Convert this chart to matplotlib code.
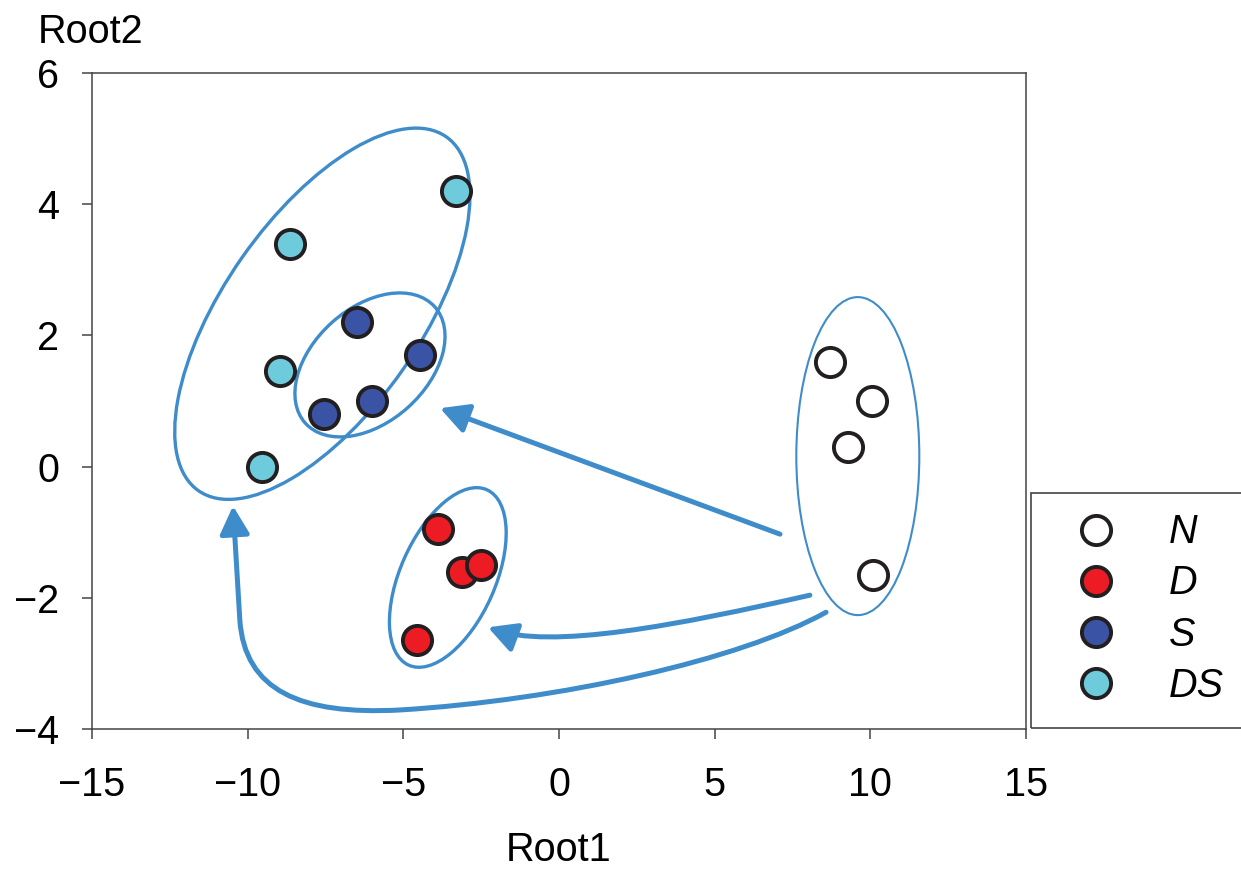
import matplotlib.pyplot as plt
import numpy as np
from matplotlib.patches import Ellipse, FancyArrowPatch, Rectangle
from matplotlib.path import Path
from matplotlib.transforms import ScaledTranslation

plt.rcParams['font.family'] = ['Liberation Sans', 'DejaVu Sans']

# discriminant scores (Root1, Root2) per group
groups = ['N', 'D', 'S', 'DS']
n_x = [8.7, 10.05, 9.3, 10.1]
n_y = [1.6, 1.0, 0.3, -1.65]
d_x = [-3.9, -4.55, -3.1, -2.5]
d_y = [-0.95, -2.65, -1.6, -1.5]
s_x = [-6.5, -4.45, -6.0, -7.55]
s_y = [2.2, 1.7, 1.0, 0.8]
ds_x = [-3.3, -8.65, -8.95, -9.55]
ds_y = [4.2, 3.4, 1.45, 0.0]

face_colors = ['white', '#ed1c24', '#3a53a4', '#6dcbdb']
edge = '#231f20'
blue = '#3f8ccb'
axis_col = '#444444'

fig = plt.figure(figsize=(12.41, 8.69), dpi=100)
ax = fig.add_axes([0.0741, 0.1611, 0.7526, 0.7549])

# group ellipses: center in data units, semi-axes in pixels, angle
ellipses = [
    ((-7.60, 2.33), 216, 98, 55, 2.4),
    ((-6.07, 1.55), 87, 57, 42, 2.4),
    ((-3.57, -1.69), 96, 47.5, 66, 2.4),
    ((9.60, 0.16), 159, 61.5, 90, 1.5),
]
for (cx, cy), a, b, ang, lw in ellipses:
    e = Ellipse((0, 0), 2 * a, 2 * b, angle=ang, fill=False, ec=blue, lw=lw,
                transform=ScaledTranslation(cx, cy, ax.transData), zorder=2)
    ax.add_patch(e)

# arrows
style = '-|>,head_length=0.85,head_width=0.45'
arrow_paths = [
    Path([(7.10, -1.03), (-3.82, 0.89)], [Path.MOVETO, Path.LINETO]),
    Path([(8.06, -1.96), (3.89, -2.41), (-0.29, -2.80), (-2.28, -2.45)],
         [Path.MOVETO, Path.CURVE4, Path.CURVE4, Path.CURVE4]),
    Path([(8.58, -2.22), (5.81, -2.95), (0.03, -3.56), (-5.11, -3.71),
          (-8.32, -3.79), (-10.09, -3.41), (-10.25, -2.34), (-10.47, -0.60)],
         [Path.MOVETO, Path.CURVE4, Path.CURVE4, Path.CURVE4,
          Path.CURVE4, Path.CURVE4, Path.CURVE4, Path.LINETO]),
]
for p in arrow_paths:
    arr = FancyArrowPatch(path=p, arrowstyle=style, mutation_scale=20,
                          color=blue, lw=3.6, zorder=3)
    ax.add_patch(arr)

handles = []
for xs, ys, fc, lab in zip([n_x, d_x, s_x, ds_x], [n_y, d_y, s_y, ds_y],
                           face_colors, groups):
    h, = ax.plot(xs, ys, 'o', ms=21, mfc=fc, mec=edge, mew=2.8,
                 label=lab, zorder=4)
    handles.append(h)

ax.set_xlim(-15, 15)
ax.set_ylim(-4, 6)
ax.set_xticks([-15, -10, -5, 0, 5, 10, 15])
ax.set_yticks([-4, -2, 0, 2, 4, 6])
ax.tick_params(axis='both', direction='out', length=7.5, width=1.1,
               color=axis_col, labelsize=28.5)
ax.tick_params(axis='x', pad=19)
ax.tick_params(axis='y', pad=16)
for sp in ax.spines.values():
    sp.set_color(axis_col)
    sp.set_linewidth(1.1)

ax.set_xlabel('Root1', fontsize=28.5, va='bottom')
ax.xaxis.set_label_coords(0.5, -0.214)
ax.set_ylabel('Root2', fontsize=28.5, rotation=0, ha='left', va='baseline')
ax.yaxis.set_label_coords(-0.058, 1.046)

fig.legend(handles=handles, loc='center left', bbox_to_anchor=(0.8675, 0.2992),
           frameon=False, handlelength=1, handletextpad=1.32, labelspacing=0.33,
           borderpad=0, borderaxespad=0,
           prop={'style': 'italic', 'size': 28.5})
fig.patches.append(Rectangle((0.8308, 0.1622), 0.2, 0.2704, transform=fig.transFigure,
                             fill=False, ec=axis_col, lw=1.2))

fig.savefig('out.png', dpi=100)
